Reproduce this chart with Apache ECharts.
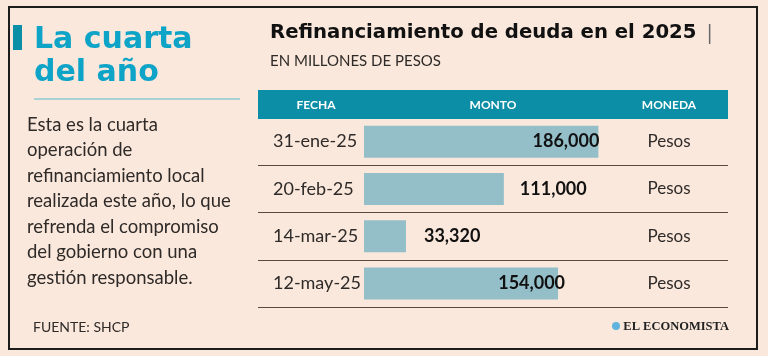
<!DOCTYPE html>
<html><head><meta charset="utf-8">
<script src="https://cdn.jsdelivr.net/npm/echarts@6/dist/echarts.min.js"></script>
<style>html,body{margin:0;padding:0;background:#fbe8dc}#c{width:768px;height:356px}</style>
</head><body><div id="c"></div>
<script>
const fechas = ['31-ene-25', '20-feb-25', '14-mar-25', '12-may-25'];
const montos = [186000, 111000, 33320, 154000];
const monedas = ['Pesos', 'Pesos', 'Pesos', 'Pesos'];
const columnas = ['FECHA', 'MONTO', 'MONEDA'];
const titulo = 'Refinanciamiento de deuda en el 2025';
const subtitulo = 'EN MILLONES DE PESOS';
const titularIzq = ['La cuarta', 'del año'];
const textoIzq = ['Esta es la cuarta', 'operación de', 'refinanciamiento local', 'realizada este año, lo que', 'refrenda el compromiso', 'del gobierno con una', 'gestión responsable.'];
const fuente = 'FUENTE: SHCP';
const marca = 'EL ECONOMISTA';

const FONT = 'Lato, "Open Sans", sans-serif';
const WIDE = '"DejaVu Sans", sans-serif';
const labelCfg = [
  {position: 'insideRight', distance: 0, offset: [1, 0]},
  {position: 'right', distance: 16},
  {position: 'right', distance: 18},
  {position: 'insideRight', distance: 0, offset: [7, 0]}
];
const barData = montos.map((v, i) => ({value: v, label: labelCfg[i]}));

const chart = echarts.init(document.getElementById('c'));
const option = {
  backgroundColor: '#fbe8dc',
  animation: false,
  grid: [
    {left: 364, width: 252, top: 118, height: 189},
    {left: 258, width: 470, top: 118, height: 189}
  ],
  xAxis: [
    {gridIndex: 0, type: 'value', min: 0, max: 200000, show: false},
    {gridIndex: 1, type: 'value', min: 0, max: 1, show: false}
  ],
  yAxis: [
    {gridIndex: 0, type: 'category', data: fechas, inverse: true,
     axisLine: {show: false}, axisTick: {show: false},
     axisLabel: {align: 'left', margin: 91, fontFamily: FONT, fontSize: 18, color: '#2e2a28'}},
    {gridIndex: 0, type: 'category', data: monedas, inverse: true, position: 'right',
     axisLine: {show: false}, axisTick: {show: false},
     axisLabel: {align: 'center', margin: 53, fontFamily: FONT, fontSize: 17, color: '#2e2a28'}},
    {gridIndex: 1, type: 'category', data: fechas, inverse: true,
     axisLine: {show: false}, axisTick: {show: false}, axisLabel: {show: false},
     splitLine: {show: true, lineStyle: {color: '#5c4a3e', width: 1}}}
  ],
  series: [{
    type: 'bar', xAxisIndex: 0, yAxisIndex: 0, data: barData, barWidth: 32,
    itemStyle: {color: '#94bec8'},
    label: {show: true, fontFamily: FONT, fontWeight: 'bold', fontSize: 18, color: '#111',
      formatter: p => p.value.toLocaleString('en-US')}
  }],
  graphic: [
    {type: 'rect', shape: {x: 9, y: 7, width: 748, height: 342}, style: {fill: 'none', stroke: '#1c1c1c', lineWidth: 2}, z: 10},
    {type: 'rect', shape: {x: 13, y: 25, width: 9, height: 25}, style: {fill: '#0b8fa7'}},
    {type: 'text', x: 34, y: 40, style: {text: titularIzq[0], font: 'bold 30px ' + WIDE, fill: '#0da4c7', verticalAlign: 'middle'}},
    {type: 'text', x: 34, y: 73, style: {text: titularIzq[1], font: 'bold 30px ' + WIDE, fill: '#0da4c7', verticalAlign: 'middle'}},
    {type: 'line', shape: {x1: 34, y1: 99, x2: 240, y2: 99}, style: {stroke: '#8fcad1', lineWidth: 1.5}},
    {type: 'text', x: 27, y: 112, style: {text: textoIzq.join('\n'), font: '18.5px ' + FONT, lineHeight: 25.5, fill: '#2e2a28', verticalAlign: 'top'}},
    {type: 'text', x: 270, y: 33, style: {text: titulo, font: 'bold 19.7px ' + WIDE, fill: '#111', verticalAlign: 'middle'}},
    {type: 'text', x: 707, y: 33, style: {text: '|', font: '21px ' + FONT, fill: '#666', verticalAlign: 'middle'}},
    {type: 'text', x: 270, y: 61, style: {text: subtitulo, font: '15px ' + FONT, fill: '#2e2a28', verticalAlign: 'middle'}},
    {type: 'rect', shape: {x: 258, y: 90, width: 470, height: 29}, style: {fill: '#0b8ea6'}, z: 5},
    {type: 'text', x: 316, y: 105, style: {text: columnas[0], font: 'bold 12px ' + FONT, fill: '#fff', align: 'center', verticalAlign: 'middle'}, z: 6},
    {type: 'text', x: 493, y: 105, style: {text: columnas[1], font: 'bold 12px ' + FONT, fill: '#fff', align: 'center', verticalAlign: 'middle'}, z: 6},
    {type: 'text', x: 669, y: 105, style: {text: columnas[2], font: 'bold 12px ' + FONT, fill: '#fff', align: 'center', verticalAlign: 'middle'}, z: 6},
    {type: 'text', x: 33, y: 327, style: {text: fuente, font: '14px ' + FONT, fill: '#2e2a28', verticalAlign: 'middle'}},
    {type: 'circle', shape: {cx: 616, cy: 326, r: 4}, style: {fill: '#5fb3dc'}},
    {type: 'text', x: 729, y: 327, style: {text: marca, font: 'bold 12.5px "Liberation Serif", serif', fill: '#222', align: 'right', verticalAlign: 'middle'}}
  ]
};
chart.setOption(option);
</script></body></html>
